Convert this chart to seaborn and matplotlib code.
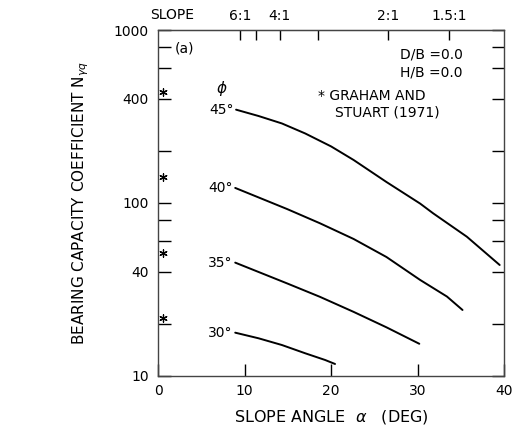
import numpy as np
import pandas as pd
import matplotlib
matplotlib.use("Agg")
import matplotlib.pyplot as plt
import seaborn as sns

# ---- data ----
phi_labels = ["45°", "40°", "35°", "30°"]
alpha_45 = [9.0, 11.6, 14.3, 17.0, 20.0, 22.6, 26.4, 30.3, 31.8, 35.7, 39.5]
n_45 = [346, 318, 288, 252, 212, 177, 132, 99, 87, 63.7, 43.7]
alpha_40 = [8.9, 14.9, 18.7, 22.6, 26.4, 30.3, 33.4, 35.2]
n_40 = [122, 92.1, 76.2, 61.8, 48.6, 35.8, 28.7, 24.0]
alpha_35 = [8.9, 14.9, 18.7, 22.6, 26.4, 30.2]
n_35 = [45.1, 34.2, 28.6, 23.4, 19.05, 15.3]
alpha_30 = [8.9, 11.6, 14.3, 17.0, 19.3, 20.45]
n_30 = [17.74, 16.46, 15.05, 13.48, 12.33, 11.69]
star_alpha = [0.5, 0.5, 0.5, 0.5]
star_n = [438, 141, 51, 21.7]
slope_ratios = [6, 5, 4, 3, 2, 1.5]
slope_labels = ["6:1", "", "4:1", "", "2:1", "1.5:1"]
y_ticks = [10, 20, 40, 60, 80, 100, 200, 400, 600, 800, 1000]
y_labels = ["10", "", "40", "", "", "100", "", "400", "", "", "1000"]
x_ticks = [0, 10, 20, 30, 40]

frames = []
for lab, a, n in zip(phi_labels, [alpha_45, alpha_40, alpha_35, alpha_30],
                     [n_45, n_40, n_35, n_30]):
    frames.append(pd.DataFrame({"alpha": a, "N": n, "phi": lab}))
df = pd.concat(frames, ignore_index=True)
stars = pd.DataFrame({"alpha": star_alpha, "N": star_n})

sns.set_style("ticks")
plt.rcParams["font.family"] = ["DejaVu Sans"]
plt.rcParams["mathtext.fontset"] = "dejavusans"
plt.rcParams["text.color"] = "black"
plt.rcParams["axes.labelcolor"] = "black"
plt.rcParams["xtick.color"] = "black"
plt.rcParams["ytick.color"] = "black"

fig = plt.figure(figsize=(5.26, 4.26), dpi=100)
ax = fig.add_axes([158.3 / 526, 1 - 375.7 / 426, 345.7 / 526, 345.7 / 426])

sns.lineplot(data=df, x="alpha", y="N", units="phi", estimator=None,
             color="black", lw=1.4, ax=ax, legend=False, sort=False)
sns.scatterplot(data=stars, x="alpha", y="N", marker=(6, 2, 0), s=28,
                color="black", linewidth=0.9, ax=ax, legend=False)

ax.set_yscale("log")
ax.set_xlim(0, 40)
ax.set_ylim(10, 1000)
ax.set_yticks(y_ticks)
ax.set_yticklabels(y_labels)
ax.yaxis.set_minor_locator(matplotlib.ticker.NullLocator())
ax.set_xticks(x_ticks)
ax.set_xticklabels([str(v) for v in x_ticks])
ax.tick_params(axis="both", direction="in", length=9, width=1.0,
               labelsize=10, right=True, top=False, labelcolor="black")
ax.tick_params(axis="y", pad=7)
ax.tick_params(axis="x", pad=6)
for s in ax.spines.values():
    s.set_visible(True)
    s.set_color("#444444")
    s.set_linewidth(1.0)

ax.set_xlabel(r"SLOPE ANGLE  $\alpha$   (DEG)", fontsize=11.5, labelpad=7)
ax.set_ylabel(r"BEARING CAPACITY COEFFICIENT N$_{\gamma q}$", fontsize=11, labelpad=16)

# top slope axis
sec = ax.secondary_xaxis("top")
sec.set_xticks(np.degrees(np.arctan(1.0 / np.array(slope_ratios))))
sec.set_xticklabels(slope_labels)
sec.tick_params(direction="in", length=7, width=1.0, labelsize=10, pad=5, labelcolor="black")
sec.spines["top"].set_color("#444444")
fig.text(150 / 526, 1 - 15 / 426, "SLOPE", fontsize=10, ha="left", va="center")

def fy(py):
    return (375.7 - py) / 345.7

def fx(px):
    return (px - 158.3) / 345.7

for lab, a, n in zip(phi_labels, [alpha_45, alpha_40, alpha_35, alpha_30],
                     [n_45, n_40, n_35, n_30]):
    ax.text(a[0] - 0.3, n[0], lab, ha="right", va="center", fontsize=10)

tr = ax.transAxes
ax.text(fx(222), fy(88), r"$\phi$", ha="center", va="center", fontsize=11, transform=tr)
ax.text(fx(175), fy(48), "(a)", ha="left", va="center", fontsize=10, transform=tr)
ax.text(fx(463), fy(55), "D/B =0.0", ha="right", va="center", fontsize=10, transform=tr)
ax.text(fx(463), fy(73), "H/B =0.0", ha="right", va="center", fontsize=10, transform=tr)
ax.text(fx(318), fy(96), "* GRAHAM AND", ha="left", va="center", fontsize=10, transform=tr)
ax.text(fx(335), fy(113), "STUART (1971)", ha="left", va="center", fontsize=10, transform=tr)

fig.savefig("out.png", dpi=100)
